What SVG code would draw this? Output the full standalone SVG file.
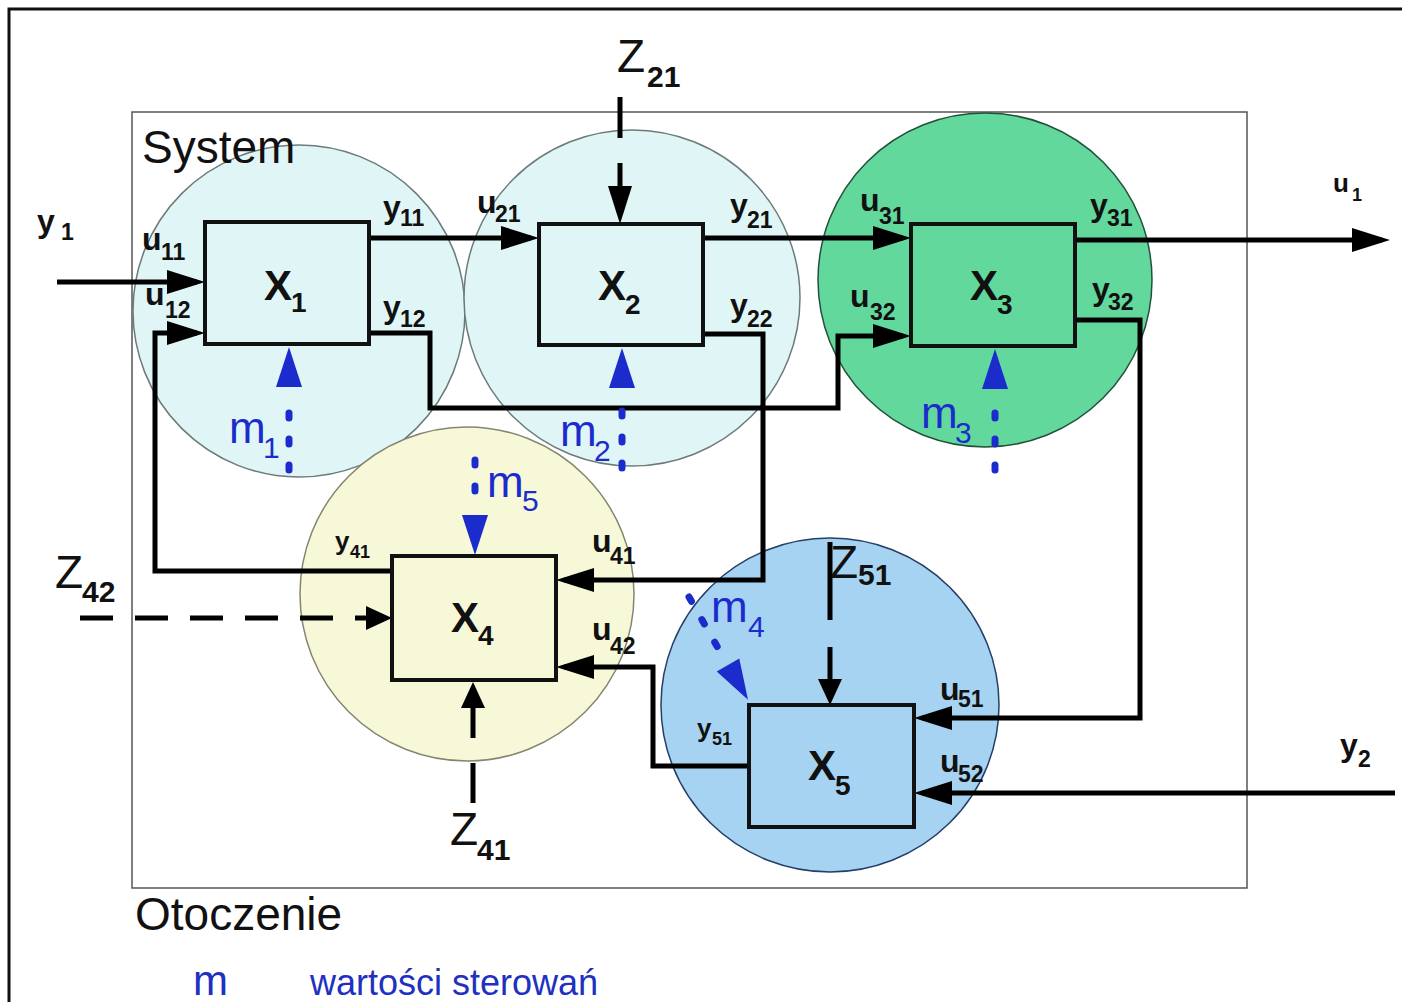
<svg xmlns="http://www.w3.org/2000/svg" xmlns:xlink="http://www.w3.org/1999/xlink" width="1402" height="1002" viewBox="0 0 1402 1002">
<style>
text{font-family:"Liberation Sans",Arial,sans-serif;fill:#111}
.lb{font-size:32px;font-weight:bold}
.sb{font-size:23px;font-weight:bold}
.lbs{font-size:26px;font-weight:bold}
.sbs{font-size:18px;font-weight:bold}
.z{font-size:46px}
.zs{font-size:30px;font-weight:bold}
.xl{font-size:42px;font-weight:bold}
.xs{font-size:28px;font-weight:bold}
.m{font-size:44px;fill:#1c2ccc}
.ms{font-size:30px;fill:#1c2ccc}
.big{font-size:46px}
.leg{fill:#2030c0}
.box{stroke:#111;stroke-width:4}
.cn{fill:none;stroke:#000;stroke-width:5;stroke-linejoin:miter}
.ds{fill:none;stroke:#000;stroke-width:5}
.dot{fill:none;stroke:#1c2ccc;stroke-width:7;stroke-linecap:round;stroke-dasharray:5 21}
.bh{fill:#1c2ccc}
</style>
<defs>
<marker id="ah" markerUnits="userSpaceOnUse" markerWidth="38" markerHeight="24" viewBox="0 0 38 24" refX="30" refY="12" orient="auto"><path d="M0,0 L38,12 L0,24 z" fill="#000"/></marker>
<marker id="as" markerUnits="userSpaceOnUse" markerWidth="26" markerHeight="24" viewBox="0 0 26 24" refX="20" refY="12" orient="auto"><path d="M0,0 L26,12 L0,24 z" fill="#000"/></marker>
<path id="bhead" d="M-13,0 L13,0 L0,-40 z"/>
</defs>
<rect width="1402" height="1002" fill="#fff"/>
<path d="M9,1002 V9 H1402" fill="none" stroke="#111" stroke-width="3"/>
<rect x="132" y="112" width="1115" height="776" fill="none" stroke="#555" stroke-width="1.5"/>

<g id="areas">
<circle cx="299" cy="311" r="166" fill="#e0f6f6" stroke="#6c7a7a" stroke-width="1.5"/>
<circle cx="632" cy="298" r="168" fill="#e0f6f6" stroke="#6c7a7a" stroke-width="1.5"/>
<circle cx="985" cy="280" r="167" fill="#62d89c" stroke="#22503a" stroke-width="1.5"/>
<circle cx="467" cy="594" r="167" fill="#f6f8d8" stroke="#858570" stroke-width="1.5"/>
<ellipse cx="830" cy="705" rx="169" ry="167" fill="#a6d3f2" stroke="#253f66" stroke-width="1.5"/>
</g>

<text class="big" x="142" y="163">System</text>
<text class="big" x="135" y="930" font-size="47">Otoczenie</text>
<text class="leg" x="193" y="995" font-size="42">m</text>
<text class="leg" x="310" y="995" font-size="36">wartości sterowań</text>

<g id="connectors">
<path class="cn" d="M57,282 H197" marker-end="url(#ah)"/>
<path class="cn" d="M392,571 H155 V333 H197" marker-end="url(#ah)"/>
<path class="cn" d="M369,238 H531" marker-end="url(#ah)"/>
<path class="cn" d="M703,238 H903" marker-end="url(#ah)"/>
<path class="cn" d="M1075,240 H1382" marker-end="url(#ah)"/>
<path class="cn" d="M368,333 H430 V408 H838 V336 H903" marker-end="url(#ah)"/>
<path class="cn" d="M703,334 H763 V580 H564" marker-end="url(#ah)"/>
<path class="cn" d="M1075,320 H1140 V718 H922" marker-end="url(#ah)"/>
<path class="cn" d="M1395,793 H922" marker-end="url(#ah)"/>
<path class="cn" d="M749,766 H653 V667 H564" marker-end="url(#ah)"/>
<path class="ds" d="M620,97 V216" stroke-dasharray="41 25" marker-end="url(#ah)"/>
<path class="ds" d="M80,618 H386" stroke-dasharray="33 22" marker-end="url(#as)"/>
<path class="ds" d="M473,803 V688" stroke-dasharray="40 25" marker-end="url(#as)"/>
<path class="ds" d="M830,542 V699" stroke-dasharray="78 27 200" marker-end="url(#as)"/>
<path class="dot" d="M289,470 V396"/>
<use xlink:href="#bhead" class="bh" transform="translate(289,387)"/>
<path class="dot" d="M622,468 V398"/>
<use xlink:href="#bhead" class="bh" transform="translate(622,388)"/>
<path class="dot" d="M995,470 V398"/>
<use xlink:href="#bhead" class="bh" transform="translate(995,389)"/>
<path class="dot" d="M475,460 V504"/>
<use xlink:href="#bhead" class="bh" transform="translate(475,515) rotate(180)"/>
<path class="dot" d="M689,597 L722,655"/>
<use xlink:href="#bhead" class="bh" transform="translate(728,665) rotate(150)"/>
</g>

<g id="x1"><rect class="box" x="205" y="222" width="164" height="122" fill="#e0f6f6"/><text class="xl" x="264" y="300">X</text><text class="xs" x="291" y="312">1</text></g>
<g id="x2"><rect class="box" x="539" y="224" width="164" height="121" fill="#e0f6f6"/><text class="xl" x="598" y="300">X</text><text class="xs" x="625" y="314">2</text></g>
<g id="x3"><rect class="box" x="911" y="224" width="164" height="122" fill="#62d89c"/><text class="xl" x="970" y="300">X</text><text class="xs" x="997" y="314">3</text></g>
<g id="x4"><rect class="box" x="392" y="556" width="164" height="124" fill="#f6f8d8"/><text class="xl" x="451" y="632">X</text><text class="xs" x="478" y="645">4</text></g>
<g id="x5"><rect class="box" x="749" y="705" width="165" height="122" fill="#a6d3f2"/><text class="xl" x="808" y="780">X</text><text class="xs" x="835" y="795">5</text></g>

<g id="labels">
<text class="lb" x="37" y="232">y</text><text class="sb" x="61" y="240">1</text>
<text class="lb" x="142" y="250">u</text><text class="sb" x="161" y="260">11</text>
<text class="lb" x="145" y="305">u</text><text class="sb" x="165" y="318">12</text>
<text class="lb" x="383" y="218">y</text><text class="sb" x="400" y="226">11</text>
<text class="lb" x="383" y="318">y</text><text class="sb" x="400" y="327">12</text>
<text class="lb" x="477" y="213">u</text><text class="sb" x="495" y="222">21</text>
<text class="lb" x="730" y="216">y</text><text class="sb" x="747" y="228">21</text>
<text class="lb" x="730" y="316">y</text><text class="sb" x="747" y="327">22</text>
<text class="lb" x="860" y="211">u</text><text class="sb" x="879" y="224">31</text>
<text class="lb" x="850" y="307">u</text><text class="sb" x="870" y="320">32</text>
<text class="lb" x="1090" y="216">y</text><text class="sb" x="1107" y="226">31</text>
<text class="lb" x="1092" y="300">y</text><text class="sb" x="1108" y="310">32</text>
<text class="lbs" x="1333" y="192">u</text><text class="sbs" x="1352" y="201">1</text>
<text class="lb" x="1340" y="756">y</text><text class="sb" x="1358" y="767">2</text>
<text class="lbs" x="335" y="550">y</text><text class="sbs" x="350" y="558">41</text>
<text class="lb" x="592" y="552">u</text><text class="sb" x="610" y="564">41</text>
<text class="lb" x="592" y="640">u</text><text class="sb" x="610" y="654">42</text>
<text class="lb" x="940" y="700">u</text><text class="sb" x="958" y="707">51</text>
<text class="lb" x="940" y="772">u</text><text class="sb" x="958" y="782">52</text>
<text class="lbs" x="697" y="737">y</text><text class="sbs" x="712" y="745">51</text>
<text class="z" x="617" y="72">Z</text><text class="zs" x="647" y="87">21</text>
<text class="z" x="55" y="588">Z</text><text class="zs" x="82" y="602">42</text>
<text class="z" x="450" y="845">Z</text><text class="zs" x="477" y="860">41</text>
<text class="z" x="830" y="578">Z</text><text class="zs" x="858" y="585">51</text>
<text class="m" x="229" y="443">m</text><text class="ms" x="263" y="458">1</text>
<text class="m" x="560" y="446">m</text><text class="ms" x="594" y="461">2</text>
<text class="m" x="921" y="428">m</text><text class="ms" x="955" y="443">3</text>
<text class="m" x="711" y="622">m</text><text class="ms" x="748" y="637">4</text>
<text class="m" x="487" y="497">m</text><text class="ms" x="522" y="511">5</text>
</g>
</svg>
